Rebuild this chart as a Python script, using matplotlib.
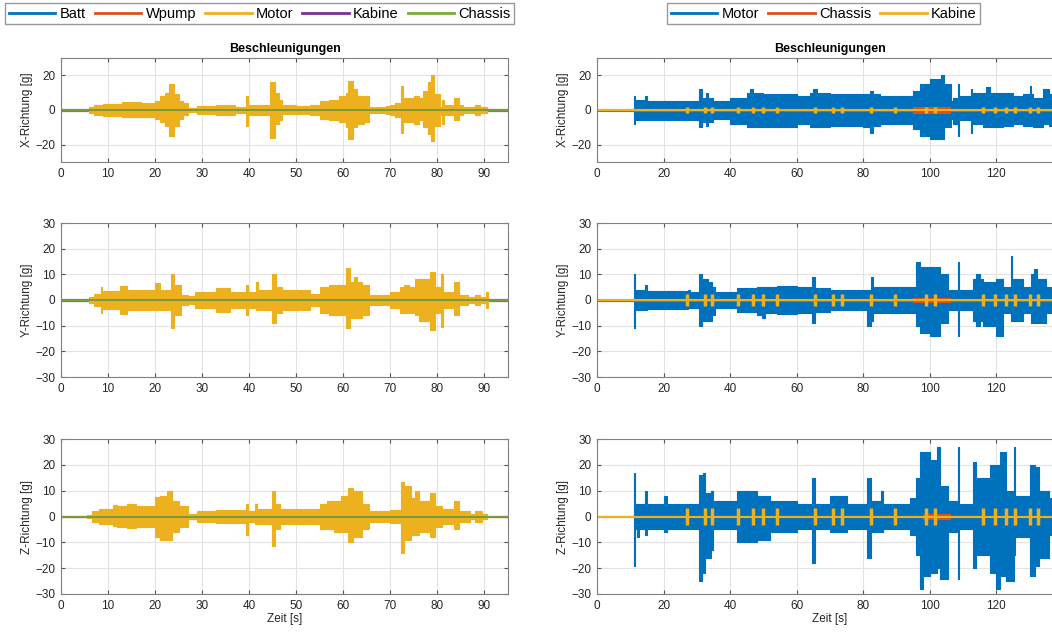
import matplotlib
matplotlib.use("Agg")
import matplotlib.pyplot as plt
from matplotlib.lines import Line2D

plt.rcParams['font.family'] = ['Liberation Sans', 'DejaVu Sans']

# MATLAB default colours
C_BLUE = '#0072BD'
C_ORANGE = '#D95319'
C_YELLOW = '#EDB120'
C_PURPLE = '#7E2F8E'
C_GREEN = '#77AC30'

# ---- left column: envelope segments (t_start, upper, lower) ----
motor_left_x = [
    (0, 0, 0), (6, 1.5, -1.5), (7, 3, -3), (9, 3.5, -3.5), (13, 4.5, -4), (17, 4, -4),
    (20, 5, -5), (21, 8, -7), (22, 10, -9), (23, 15, -15), (24, 9, -9), (25, 5, -5),
    (26, 4, -3), (27, 1, -1), (29, 2.5, -2.5), (33, 3, -3), (37, 2, -2), (39.4, 8, -9),
    (39.8, 3, -3), (44.5, 16, -16), (45.5, 10, -8), (46.3, 6, -6), (47, 3, -2.5),
    (50, 2.5, -2.5), (53, 3, -3), (55, 5, -5), (57, 6, -6), (59, 8, -7), (60.5, 10, -10),
    (61, 17, -17), (62, 12, -10), (63, 8, -8), (64.5, 8, -7), (65.5, 2, -2), (69, 2.5, -2.5),
    (70, 3, -3), (71, 4, -4), (72.2, 14, -13), (72.6, 5, -6), (73, 7, -7), (75, 8, -8),
    (76, 7, -6), (77, 11, -10), (78, 16, -14), (78.7, 20, -18), (79.3, 9, -9), (80.5, 2, -3),
    (81, 6, -8), (81.4, 3, -3), (83.5, 7, -6), (84.5, 3, -3), (85.5, 2, -2), (88, 3, -3),
    (89, 1.5, -1.5), (90, 2, -2), (90.5, 0, 0),
]
motor_left_y = [
    (0, 0, 0), (6, 1, -1), (7, 2.5, -2.5), (8.4, 5, -5), (8.8, 3.5, -3.5), (12.5, 5.5, -5.5),
    (14, 4, -4), (20, 6.5, -4), (21, 4, -4), (23.3, 10, -11), (24, 6, -6), (25.5, 2, -2),
    (27, 1.5, -1.5), (28.5, 3, -3), (33, 4.5, -4.5), (36, 3, -3), (39.4, 6, -6), (39.8, 3, -3),
    (41.4, 7, -4), (41.8, 4, -4), (44.8, 10, -9), (45.6, 5, -5), (47, 4, -4), (53, 2.5, -2.5),
    (55, 5, -5), (57, 6, -6), (60.5, 12.5, -11), (61.5, 7, -7), (62.3, 9, -7), (63, 7, -7),
    (64, 6, -6), (65.5, 2, -2), (70, 3, -3), (72, 5, -5), (73, 6, -5), (74, 5, -5),
    (75.3, 8, -6), (76, 8, -8), (78.4, 11, -11.5), (79.5, 5, -5), (80.8, 10, -10.5),
    (81.2, 3, -3), (83.5, 7, -6), (84.5, 2, -2), (86.5, 1, -1), (88, 2, -2), (89, 1, -1),
    (90.3, 3, -3), (90.7, 0, 0),
]
motor_left_z = [
    (0, 0, 0), (5.5, 0.5, -0.5), (6.5, 2, -2), (8, 3, -3), (11, 4.5, -3.5), (12, 4, -4),
    (14, 5, -4.5), (16, 4, -4), (20, 7.5, -8), (21, 8, -9), (22.5, 10, -9), (23.5, 6, -6),
    (25, 4, -4), (27, 1, -1), (29, 2, -2), (33, 2.5, -2.5), (39.4, 5, -7), (39.8, 2, -2),
    (41.3, 5, -3), (41.7, 3, -3), (44.8, 10, -11.5), (45.5, 5, -5), (46.5, 3, -3),
    (55, 5, -5), (56.5, 6, -5), (58, 6, -6), (59.5, 8, -6), (61, 11, -10), (62, 10, -8),
    (64, 5, -5), (65.5, 2, -2), (70, 2.5, -2.5), (72.3, 13.5, -14), (72.8, 12, -9),
    (74.3, 7, -7), (75.3, 10, -7), (76, 6, -6), (78.5, 9, -8), (79.5, 4, -4), (81, 3, -3),
    (83.5, 6, -5), (84.5, 2, -2), (87, 1, -1), (88, 2, -2), (89.5, 1, -1), (90.5, 0, 0),
]
small_left = [(0, 0.35, -0.35)]  # Batt, Wpump, Kabine, Chassis stay near 0
left_end = 95

# ---- right column ----
motor_right_x = [
    (11, 8, -8), (11.5, 6, -6), (14.3, 8, -6), (15, 5, -6), (25, 5, -6), (30.7, 12, -10),
    (31.5, 7, -7), (32.8, 10, -9), (33.5, 7, -7), (35, 5, -5), (40, 7, -8), (45, 10, -10),
    (46, 12, -10), (47, 10, -10), (50, 9, -10), (60, 8, -8), (64, 10, -10), (65, 12, -10),
    (66, 10, -10), (70, 9, -9), (80, 9, -10), (82, 11, -13), (83, 9, -9), (85, 8, -8),
    (95, 11, -11), (97, 15, -15), (100, 18, -17), (103.5, 20, -17), (104.2, 15, -10),
    (106.3, 5, -5), (107, 7, -8), (108.4, 15, -15), (108.8, 8, -6), (112.3, 12, -13),
    (112.7, 10, -8), (116, 10, -10), (117, 13, -10), (118, 10, -10), (122, 10, -9),
    (125, 8, -8), (128, 9, -9), (130, 14, -9), (130.5, 9, -9), (131, 7, -10), (134, 12, -8),
    (136, 9, -9),
]
motor_right_y = [
    (11, 10, -11), (11.5, 4, -4), (14.3, 6, -4), (15, 3.5, -3.5), (27.3, 4, -3), (28, 3, -3),
    (30.7, 10, -10), (31.5, 8, -8), (33.5, 7, -8), (34.5, 5, -6), (35.5, 3, -3), (42, 4.5, -4.5),
    (48, 5, -6), (49.5, 5, -7), (50.5, 5, -5), (54, 5.5, -5.5), (60, 5, -5), (64.5, 9, -9),
    (65.5, 4.5, -4.5), (70, 4, -4), (81.3, 4, -10), (82.3, 9, -8), (83, 5, -5), (96, 15, -10),
    (97, 13, -13), (100, 13, -14), (103, 10, -9), (105.5, 4, -4), (108.4, 15, -14),
    (108.8, 4, -4), (113, 8, -8), (114, 10, -10), (115, 8, -8), (116, 7, -10), (120, 8, -14),
    (122, 5, -5), (124.3, 17, -8), (124.8, 8, -8), (128, 5, -5), (130.3, 10, -9),
    (131.3, 12, -9), (132.3, 8, -9), (135, 5, -5),
]
motor_right_z = [
    (11, 17, -19), (11.5, 5, -5), (12, 5, -8), (12.5, 5, -5), (14.3, 10, -7), (15, 5, -5),
    (20, 8, -6), (21, 5, -5), (30.7, 16, -25), (31.5, 10, -12), (32, 17, -22), (32.6, 9, -16),
    (34.3, 10, -13), (35, 6, -5), (42, 10, -10), (48, 8, -9), (52, 6, -6), (60, 5, -5),
    (64.5, 15, -18), (65.5, 5, -5), (70, 8, -6), (75, 5, -5), (81.3, 15, -16), (82.3, 6, -6),
    (85.3, 10, -6), (86, 5, -5), (94, 7, -7), (96, 15, -15), (97, 25, -28), (98, 25, -23),
    (100, 22, -22), (102.3, 27, -20), (103, 12, -24), (105.5, 6, -6), (108.4, 27, -24),
    (108.8, 5, -5), (113, 21, -20), (114, 15, -15), (116, 15, -15), (118, 20, -22),
    (120, 20, -28), (121, 25, -23), (123, 10, -25), (125.2, 27, -15), (125.7, 8, -8),
    (130, 20, -23), (131.5, 19, -19), (133, 10, -16), (136, 7, -7),
]
right_end = 140

kabine_times = [27, 32.5, 34.5, 42.5, 47, 50, 54, 65.5, 71, 73.5, 82.5, 89.5,
                99, 101.5, 116, 119.5, 123, 125.5, 130, 132.5]
kabine_amp = {'x': 1.6, 'y': 2.5, 'z': 3.2}
chassis_right_x = [(0, 0.3, -0.3), (95, 1.5, -1.5), (106, 0.3, -0.3)]
chassis_right_y = [(0, 0.3, -0.3), (95, 0.8, -0.8), (106, 0.3, -0.3)]
chassis_right_z = [(0, 0.3, -0.3), (98, 0.8, -0.8), (106, 0.3, -0.3)]


def band(ax, segs, end, color):
    t = [s[0] for s in segs] + [end]
    up = [s[1] for s in segs] + [segs[-1][1]]
    lo = [s[2] for s in segs] + [segs[-1][2]]
    ax.fill_between(t, lo, up, step='post', color=color, lw=0.8, edgecolor=color)


def style(ax, xmax, xticks, yticks, ylabel, xlabel=None, title=None):
    ax.set_xlim(0, xmax)
    ax.set_ylim(-30, 30)
    ax.set_xticks(xticks)
    ax.set_yticks(yticks)
    ax.grid(True, color='#e3e3e3', lw=0.8)
    ax.set_axisbelow(True)
    ax.tick_params(direction='in', top=True, right=True, labelsize=8.5,
                   colors='#555555', labelcolor='#262626', length=3, pad=4)
    for sp in ax.spines.values():
        sp.set_color('#808080')
        sp.set_linewidth(0.8)
    ax.set_ylabel(ylabel, fontsize=8.5, color='#262626', labelpad=2)
    if xlabel:
        ax.set_xlabel(xlabel, fontsize=8.5, color='#262626', labelpad=1)
    if title:
        ax.set_title(title, fontsize=9, fontweight='bold', pad=4)


fig = plt.figure(figsize=(10.52, 6.32), dpi=100)
W, H = 1052, 632
rows = [(58, 162), (223, 377), (439, 594)]
left_x = (61, 508)
right_x = (597, 597 + 140 * 3.327)

motor_left = [motor_left_x, motor_left_y, motor_left_z]
motor_right = [motor_right_x, motor_right_y, motor_right_z]
chassis_right = [chassis_right_x, chassis_right_y, chassis_right_z]
names = ['X', 'Y', 'Z']

for i, (top, bot) in enumerate(rows):
    yt = [-20, 0, 20] if i == 0 else [-30, -20, -10, 0, 10, 20, 30]
    xl = 'Zeit [s]' if i == 2 else None
    tt = 'Beschleunigungen' if i == 0 else None

    # left
    ax = fig.add_axes([left_x[0] / W, 1 - bot / H, (left_x[1] - left_x[0]) / W, (bot - top) / H])
    band(ax, small_left, left_end, C_BLUE)
    band(ax, small_left, left_end, C_ORANGE)
    band(ax, motor_left[i], left_end, C_YELLOW)
    ax.plot([0, left_end], [0, 0], color=C_PURPLE, lw=1.2)
    ax.plot([0, left_end], [0, 0], color=C_GREEN, lw=1.2)
    style(ax, 95, range(0, 91, 10), yt, f'{names[i]}-Richtung [g]', xl, tt)

    # right (axes runs past the figure edge, as in the reference)
    ax = fig.add_axes([right_x[0] / W, 1 - bot / H, (right_x[1] - right_x[0]) / W, (bot - top) / H])
    band(ax, motor_right[i], right_end, C_BLUE)
    band(ax, chassis_right[i], right_end, C_ORANGE)
    ax.plot([0, right_end], [0, 0], color=C_YELLOW, lw=1.5)
    a = kabine_amp[names[i].lower()]
    ax.vlines(kabine_times, -a, a, color=C_YELLOW, lw=2.5)
    style(ax, 140, range(0, 121, 20), yt, f'{names[i]}-Richtung [g]', xl, tt)

# legends
lh = lambda c: Line2D([], [], color=c, lw=2)
fig.legend([lh(C_BLUE), lh(C_ORANGE), lh(C_YELLOW), lh(C_PURPLE), lh(C_GREEN)],
           ['Batt', 'Wpump', 'Motor', 'Kabine', 'Chassis'],
           loc='upper left', bbox_to_anchor=(5 / W, 1 - 3 / H), ncol=5, fontsize=10.5,
           frameon=True, fancybox=False, edgecolor='#808080', handlelength=3.2,
           handletextpad=0.3, columnspacing=0.6, borderpad=0.25, borderaxespad=0)
fig.legend([lh(C_BLUE), lh(C_ORANGE), lh(C_YELLOW)], ['Motor', 'Chassis', 'Kabine'],
           loc='upper left', bbox_to_anchor=(667 / W, 1 - 3 / H), ncol=3, fontsize=10.5,
           frameon=True, fancybox=False, edgecolor='#808080', handlelength=3.2,
           handletextpad=0.3, columnspacing=0.6, borderpad=0.25, borderaxespad=0)

fig.savefig('out.png', dpi=100)
